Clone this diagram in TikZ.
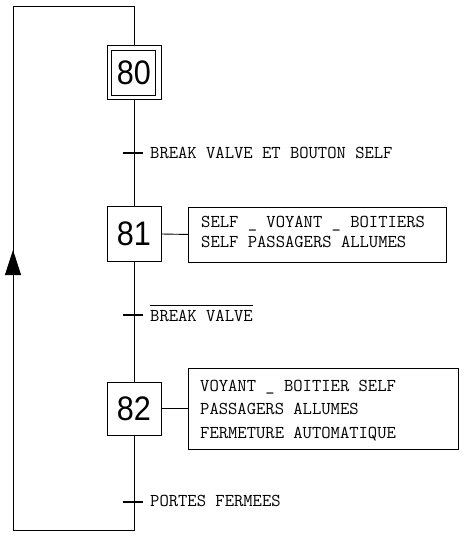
\documentclass[tikz,border=0pt]{standalone}
\usepackage{fontspec}
\usetikzlibrary{arrows.meta}
\newfontfamily\gnum[FakeStretch=0.9]{Liberation Sans}
\newcommand{\gmono}{\ttfamily}
\newcommand{\usc}{\raisebox{0.5bp}{\_}}
\begin{document}
\begin{tikzpicture}[x=1bp,y=-1bp,
  wire/.style={line width=0.9bp, draw=black},
  stepbox/.style={draw, line width=1bp, minimum width=54bp, minimum height=54bp, inner sep=0pt,
    font=\gnum\fontsize{34bp}{34bp}\selectfont},
  actbox/.style={draw, line width=0.9bp, anchor=north west, inner sep=0pt},
  txt/.style={inner sep=0pt, anchor=base west, font=\gmono\fontsize{18.1bp}{20bp}\selectfont},
  tickmark/.style={line width=1.6bp}]
\useasboundingbox (0,0) rectangle (470,541);

% steps
\node[stepbox] (s80) at (134,73) {80};
\draw[line width=1bp] ([shift={(5,5)}]s80.north west) rectangle ([shift={(-6,-5)}]s80.south east);
\node[stepbox, minimum height=55bp] (s81) at (134,234) {81};
\node[stepbox, minimum height=53bp] (s82) at (134,408.5) {82};

% actions
\node[actbox, minimum width=258bp, minimum height=55bp] (a81) at (188,206.5) {};
\node[actbox, minimum width=270bp, minimum height=81bp] (a82) at (188,368) {};
\node[txt, align=left, font=\gmono\fontsize{18.1bp}{19.3bp}\selectfont] (a81t) at (201,247)
  {SELF \usc{} VOYANT \usc{} BOITIERS\\SELF PASSAGERS ALLUMES};
\node[txt, align=left, font=\gmono\fontsize{18.1bp}{23.5bp}\selectfont] (a82t) at (200,438)
  {VOYANT \usc{} BOITIER SELF\\PASSAGERS ALLUMES\\FERMETURE AUTOMATIQUE};
\draw[wire] (s81.east) -- (a81.west);
\draw[wire] (s82.east) -- (s82.east -| a82.west);

% transitions
\coordinate (t1) at (134,153);
\coordinate (t2) at (134,315);
\coordinate (t3) at (134,502);
\draw[wire] (s80.south) -- (s81.north);
\draw[wire] (s81.south) -- (s82.north);
\draw[tickmark] ([xshift=-11]t1) -- ([xshift=9]t1);
\draw[tickmark] ([xshift=-11]t2) -- ([xshift=9]t2);
\draw[tickmark] ([xshift=-11]t3) -- ([xshift=9]t3);
\node[txt] (c1) at (150,158.5) {BREAK VALVE ET BOUTON SELF};
\node[txt] (c2) at (150,321.5) {BREAK VALVE};
\draw[line width=0.8bp] ([yshift=4.5bp]c2.north west) -- ([yshift=4.5bp]c2.north east);
\node[txt] (c3) at (150,506) {PORTES FERMEES};

% loop back
\coordinate (bl) at (134,530);
\coordinate (bll) at (13,530);
\coordinate (tll) at (13,6);
\coordinate (tl) at (134,6);
\coordinate (arr) at (13,250);
\draw[wire] (s82.south) -- (bl) -- (bll) -- (tll) -- (tl) -- (s80.north);
\draw[wire, -{Triangle[length=25bp,width=16bp]}] (bll) -- (arr);
\end{tikzpicture}
\end{document}
